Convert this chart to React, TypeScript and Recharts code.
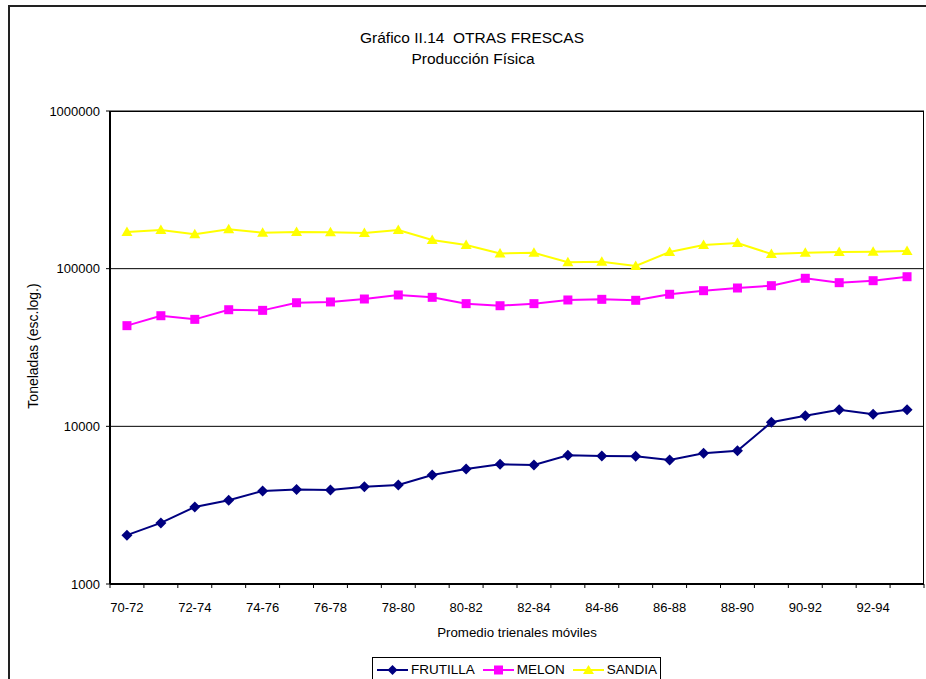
import { LineChart, Line, XAxis, YAxis, CartesianGrid } from 'recharts';

const categories = [
  '70-72', '71-73', '72-74', '73-75', '74-76', '75-77', '76-78', '77-79',
  '78-80', '79-81', '80-82', '81-83', '82-84', '83-85', '84-86', '85-87',
  '86-88', '87-89', '88-90', '89-91', '90-92', '91-93', '92-94', '93-95',
];

const frutilla = [
  2040, 2440, 3080, 3400, 3890, 3970, 3950, 4140, 4250, 4910, 5360, 5740,
  5690, 6550, 6490, 6460, 6120, 6750, 7010, 10610, 11680, 12750, 11920, 12750,
];

const melon = [
  43500, 50300, 47700, 54900, 54400, 60800, 61500, 64200, 68100, 65800, 60000, 58200,
  60000, 63300, 63900, 63000, 68800, 72500, 75400, 78000, 86900, 81500, 83900, 88900,
];

const sandia = [
  170800, 175900, 165200, 177700, 169100, 170800, 170100, 168300, 175900, 152000, 141300, 124800,
  126000, 109700, 110700, 104000, 127600, 141300, 145500, 123900, 126200, 127600, 128200, 129400,
];

const yTicks = [1000, 10000, 100000, 1000000];

const data = categories.map((c, i) => ({
  name: c,
  FRUTILLA: frutilla[i],
  MELON: melon[i],
  SANDIA: sandia[i],
}));

const FONT = '"Liberation Sans", Arial, sans-serif';
const W = 926;
const H = 679;
const PLOT_LEFT = 110;
const PLOT_RIGHT = 2;
const PLOT_TOP = 111;
const PLOT_BOTTOM = 95;
const BAND = (W - PLOT_LEFT - PLOT_RIGHT) / categories.length;

const Diamond = (props: any) => {
  const { cx, cy, index } = props;
  if (cx == null || cy == null) return <g key={index} />;
  return (
    <path key={index} d={`M${cx},${cy - 5.5} L${cx + 5.5},${cy} L${cx},${cy + 5.5} L${cx - 5.5},${cy} Z`} fill="#000080" />
  );
};

const Square = (props: any) => {
  const { cx, cy, index } = props;
  if (cx == null || cy == null) return <g key={index} />;
  return <rect key={index} x={cx - 4.5} y={cy - 4.5} width={9} height={9} fill="#ff00ff" />;
};

const Triangle = (props: any) => {
  const { cx, cy, index } = props;
  if (cx == null || cy == null) return <g key={index} />;
  return (
    <path key={index} d={`M${cx},${cy - 5.5} L${cx + 5.5},${cy + 4} L${cx - 5.5},${cy + 4} Z`} fill="#ffff00" />
  );
};

const XTick = (props: any) => {
  const { x, y, payload, index } = props;
  return (
    <g>
      <line x1={x - BAND / 2} y1={y} x2={x - BAND / 2} y2={y + 4} stroke="#000" />
      {index === categories.length - 1 && (
        <line x1={x + BAND / 2} y1={y} x2={x + BAND / 2} y2={y + 4} stroke="#000" />
      )}
      {index % 2 === 0 && (
        <text x={x} y={y + 28} textAnchor="middle" fontSize={13} fontFamily={FONT} fill="#000">
          {payload.value}
        </text>
      )}
    </g>
  );
};

const legendItems = [
  { name: 'FRUTILLA', color: '#000080', shape: 'diamond' },
  { name: 'MELON', color: '#ff00ff', shape: 'square' },
  { name: 'SANDIA', color: '#ffff00', shape: 'triangle' },
];

function LegendMark({ color, shape }: { color: string; shape: string }) {
  return (
    <svg width={31} height={12} style={{ display: 'block', marginRight: 3 }}>
      <line x1={0} y1={6} x2={31} y2={6} stroke={color} strokeWidth={2} />
      {shape === 'diamond' && <path d="M15.5,1 L20.5,6 L15.5,11 L10.5,6 Z" fill={color} />}
      {shape === 'square' && <rect x={11} y={1.5} width={9} height={9} fill={color} />}
      {shape === 'triangle' && <path d="M15.5,1 L21,10 L10,10 Z" fill={color} />}
    </svg>
  );
}

export default function App() {
  return (
    <div style={{ position: 'absolute', left: 0, top: 0, width: W, height: H, background: '#fff', overflow: 'hidden', fontFamily: FONT }}>
      <div style={{ position: 'absolute', left: 0, width: 944, top: 28, textAlign: 'center', fontSize: 15.5, lineHeight: '20px', whiteSpace: 'pre', color: '#000' }}>
        {'Gráfico II.14  OTRAS FRESCAS'}
      </div>
      <div style={{ position: 'absolute', left: 0, width: 946, top: 49, textAlign: 'center', fontSize: 15.5, lineHeight: '20px', color: '#000' }}>
        Producción Física
      </div>
      <div style={{ position: 'absolute', left: 0, top: 0 }}>
        <LineChart
          width={W}
          height={H}
          data={data}
          margin={{ top: PLOT_TOP, right: PLOT_RIGHT, left: 0, bottom: 0 }}
        >
          <CartesianGrid vertical={false} stroke="#000" strokeWidth={1} />
          <XAxis
            dataKey="name"
            interval={0}
            height={PLOT_BOTTOM}
            padding={{ left: BAND / 2, right: BAND / 2 }}
            axisLine={{ stroke: '#000', strokeWidth: 2 }}
            tickLine={false}
            tickSize={0}
            tickMargin={0}
            tick={<XTick />}
          />
          <YAxis
            scale="log"
            domain={[1000, 1000000]}
            ticks={yTicks}
            allowDataOverflow
            width={PLOT_LEFT}
            tickSize={4}
            tickMargin={6}
            tickFormatter={(v: number) => String(v)}
            axisLine={{ stroke: '#000', strokeWidth: 2 }}
            tickLine={{ stroke: '#000' }}
            tick={{ fontSize: 13, fill: '#000', fontFamily: FONT }}
          />
          <Line dataKey="FRUTILLA" stroke="#000080" strokeWidth={2} dot={Diamond} isAnimationActive={false} />
          <Line dataKey="MELON" stroke="#ff00ff" strokeWidth={2} dot={Square} isAnimationActive={false} />
          <Line dataKey="SANDIA" stroke="#ffff00" strokeWidth={2} dot={Triangle} isAnimationActive={false} />
        </LineChart>
      </div>
      <div style={{ position: 'absolute', left: PLOT_LEFT, top: PLOT_TOP, width: W - PLOT_LEFT - PLOT_RIGHT - 1, height: H - PLOT_TOP - PLOT_BOTTOM - 1, borderTop: '1px solid #000', borderRight: '1.5px solid #000', pointerEvents: 'none' }} />
      <div style={{ position: 'absolute', left: 33, top: 346, transform: 'translate(-50%, -50%) rotate(-90deg)', fontSize: 14, whiteSpace: 'nowrap', color: '#000' }}>
        Toneladas (esc.log.)
      </div>
      <div style={{ position: 'absolute', left: PLOT_LEFT, width: W - PLOT_LEFT - PLOT_RIGHT, top: 624, textAlign: 'center', fontSize: 13.3, lineHeight: '18px', color: '#000' }}>
        Promedio trienales móviles
      </div>
      <div style={{ position: 'absolute', left: 372, top: 657, width: 289, height: 40, border: '1px solid #000', boxSizing: 'border-box', display: 'flex', alignItems: 'flex-start', paddingLeft: 4, paddingTop: 5 }}>
        {legendItems.map((it) => (
          <div key={it.name} style={{ display: 'flex', alignItems: 'center', marginRight: 8 }}>
            <LegendMark color={it.color} shape={it.shape} />
            <span style={{ fontSize: 13.5, lineHeight: '14px', color: '#000' }}>{it.name}</span>
          </div>
        ))}
      </div>
      <div style={{ position: 'absolute', left: 8, top: 5, width: 2, height: 700, background: '#222', zIndex: 5 }} />
      <div style={{ position: 'absolute', left: 8, top: 5, width: 960, height: 2, background: '#222', zIndex: 5 }} />
    </div>
  );
}
